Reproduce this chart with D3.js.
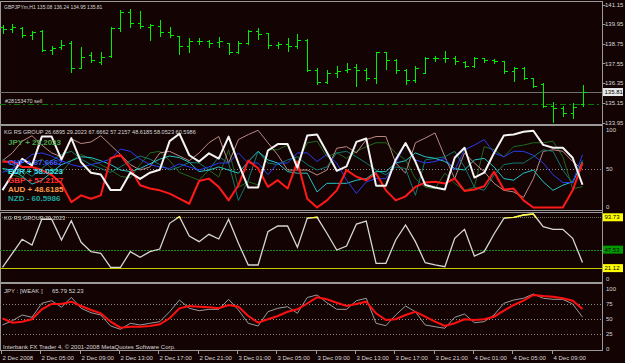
<!DOCTYPE html>
<html>
<head>
<meta charset="utf-8">
<title>GBPJPYm,H1</title>
<style>
  body { margin: 0; background: #130303; }
  svg { display: block; font-family: "Liberation Sans", Arial, sans-serif; }
  text { fill: #d8d8d8; font-size: 6px; }
</style>
<script src="https://cdnjs.cloudflare.com/ajax/libs/d3/7.8.5/d3.min.js"></script>
</head>
<body>
<svg id="chart" width="625" height="363"></svg>
<script>
// ---- data ----
const symbol = "GBPJPYm,H1";
const open = [139.78,139.66,139.72,139.29,139.54,138.38,138.56,138.81,137.28,138.08,
  137.65,138.01,139.72,140.69,140.02,139.78,139.84,139.48,139.23,138.62,
  138.93,138.93,138.87,138.81,138.26,138.81,139.54,139.41,138.68,138.74,
  138.62,138.99,137.16,136.43,136.98,137.16,137.34,137.16,136.67,138.26,
  137.77,137.16,136.55,136.98,137.89,137.89,137.89,137.65,137.40,137.89,
  137.77,137.71,137.10,137.28,136.67,136.31,134.97,134.85,134.54,135.08];
const high = [139.90,139.96,139.78,139.54,139.60,138.62,138.99,138.93,138.56,138.26,
  138.26,139.78,140.82,140.88,140.75,139.96,140.21,139.78,139.23,139.11,
  139.11,138.99,139.17,138.81,138.93,139.60,139.72,139.41,138.87,139.11,
  139.35,139.05,137.28,137.16,137.40,137.59,137.53,137.28,138.26,138.26,
  137.83,137.22,137.40,137.95,138.01,138.32,138.01,137.71,137.95,137.89,
  137.83,137.71,137.34,137.34,136.67,136.37,135.21,134.97,135.15,136.24];
const low = [139.41,139.48,139.17,139.05,138.32,138.14,138.44,137.04,137.28,137.65,
  137.53,137.95,139.54,139.78,139.72,138.99,139.23,139.17,138.14,138.26,
  138.74,138.56,138.56,138.14,138.20,138.74,139.05,138.50,138.50,138.32,
  138.50,137.10,136.31,136.37,136.73,137.04,136.19,136.55,136.37,137.22,
  136.98,136.31,136.43,136.98,137.71,137.65,137.53,137.34,137.34,137.65,
  137.59,136.98,136.49,136.61,136.13,134.91,134.00,134.36,134.24,134.95];
const close = [139.66,139.78,139.29,139.48,138.38,138.50,138.68,137.28,137.95,137.77,
  137.95,139.72,140.69,140.02,139.84,139.90,139.48,139.29,138.62,138.93,
  138.93,138.81,138.93,138.26,138.81,139.54,139.35,138.68,138.74,138.62,
  138.99,137.16,136.43,136.98,137.10,137.22,137.16,136.67,138.26,137.77,
  137.16,136.55,137.28,137.89,137.89,137.89,137.71,137.40,137.89,137.77,
  137.71,137.10,137.28,136.67,136.19,134.97,134.85,134.54,134.91,135.81];
const priceTicks = [141.15, 139.95, 138.75, 137.55, 136.35, 135.15, 133.95];
const bidPrice = 135.81;
const orderPrice = 135.10;
const orderLabel = "#28153470 sell";

// KG RS GROUP strength lines (0..100)
const rsUSD = [50,42,38,55,62,50,45,60,68,62,55,48,40,38,55,70,72,60,45,40,
  35,48,39,74,26,33,29,74,74,80,57,83,85,65,70,63,72,78,83,83,
  70,61,37,26,24,44,31,22,26,78,74,65,78,80,83,83,85,65,24,26.69];
const rsJPY = [22.3,42.3,62.3,54.1,90.9,90.9,61.3,88.9,58.0,44.6,42.3,22.3,22.3,44.6,36.6,44.6,48.4,85.1,94.6,67.0,
  58.9,69.4,62.7,90.9,56.6,25.6,25.6,73.1,81.3,81.3,50.9,92.3,93.7,70.9,47.0,52.7,84.1,88.4,28.0,28.0,
  61.3,82.7,58.9,28.9,25.6,23.1,63.7,76.6,38.4,44.6,69.9,92.3,93.7,97.0,98.4,80.3,76.6,76.6,63.7,29.2];
const rsCHF = [45,50,58,68,70,66,60,55,52,55,58,62,75,72,62,55,52,50,56,52,
  48,52,57,57,70,57,57,42,57,57,70,70,59,68,57,35,18,33,37,37,
  57,82,61,57,59,63,48,74,80,87,70,65,72,72,67,57,42,32,32,67.67];
const rsGBP = [58.8,58.8,52,52,48,41.6,30.7,6.9,15.6,11.3,15.6,63.2,67.5,50.3,28.6,24.3,22,17.8,11.3,4.8,
  34,37,26.4,9.1,28.6,60.1,50.3,26.4,35,24.3,58.8,11.3,0,9.1,22,48,39.4,35,43.7,22,
  9.1,14.3,26.4,32,32.9,30.7,37.3,21.2,23,27.3,45.9,23,24.3,9.1,0,0,0,0,22,57.22];
const rsAUD = [60,70,85,92,80,70,65,88,82,84,92,80,68,55,48,52,70,72,66,60,
  70,83,91,57,87,93.5,99,83,67.5,48,48,48,41.6,48,76,78,70,87,91,91,
  57,44,83,89,95.6,65,37,70,57,46,31,22,20,13,37,72,74,72,59,48.62];
const rsEUR = [50,48,40,30,35,45,55,60,65,64,60,55,48,46,50,56,62,66,64,58,
  46,48,52,48,44,59,72,61,57,46,44,44,20,31,31,31,35,37,46,46,
  57,60,70,65,63,59,50,48,61,63,52,37,35,44,48,33,22,28.6,33,58.05];
const rsNZD = [62,55,48,40,50,60,68,72,62,55,50,45,52,60,66,62,55,48,52,58,
  57,48,65,57,9,35,72,57,55,61,65,55,48,52,70,72,65,57,48,42,
  52,50,15.6,61,63,65,72,52,26,22,41.6,55,57,57,65,74,72,48,31,60.6];
const rsHeader = "KG RS GROUP   26.6895 29.2023 67.6662 57.2157 48.6185 58.0523 60.5986";
const legendNames = ["JPY", "CHF", "EUR", "GBP", "AUD", "NZD"];
const legendSigns = ["+", "+", "+", "+", "+", "-"];
const legendValues = ["29.2023", "67.6662", "58.0523", "57.2157", "48.6185", "60.5986"];
const rsTicks = [100, 50, 0];

// JPY panel levels
const levels = [93.73, 47.53, 21.12];

// JPY strength panel
const strRaw = [39.2,46.3,55.8,52.0,75.3,79.7,68.7,85.3,67.0,59.7,55.8,37.5,32.0,42.0,39.2,42.0,44.7,61.3,80.8,67.0,
  63.0,65.3,65.3,82.0,64.2,42.0,37.5,61.3,67.0,69.7,58.7,85.0,89.2,76.3,65.3,65.3,79.7,83.7,42.0,38.0,
  55.8,70.8,61.3,39.2,36.3,33.7,52.0,57.5,43.0,44.7,55.8,75.3,80.8,83.7,90.8,83.7,82.0,82.0,74.2,52.23];
const strSmooth = [50.3,43,44.7,48.7,65.3,74.2,74.2,78,70.8,64.2,58.7,44.7,34.7,36.3,36.3,37.5,40.3,50.3,67,70.8,
  69.7,68.7,67,72.5,69.7,54.2,43,48.7,54.2,61.3,65.3,75,85.3,82,76.3,70.8,74.2,78,58.7,47.5,
  48.7,55.8,61.3,53,44.7,37.5,42,48.7,47.5,48.7,53,63,72.5,79.7,89.2,87.5,86.3,83.7,79.7,65.79];
const strTicks = [100, 75, 50, 25, 0];

const timeTickBars = [0,4,8,12,16,20,24,28,32,36,40,44,48,52,56];
const timeTickLabels = ["2 Dec 2008","2 Dec 05:00","2 Dec 09:00","2 Dec 13:00","2 Dec 17:00",
  "2 Dec 21:00","3 Dec 01:00","3 Dec 05:00","3 Dec 09:00","3 Dec 13:00","3 Dec 17:00",
  "3 Dec 21:00","4 Dec 01:00","4 Dec 05:00","4 Dec 09:00"];

// ---- layout ----
const svg = d3.select("#chart");
const right = 602.5;
const panels = [[1.5, 124.5], [125.5, 210.5], [212.5, 282.5], [283.5, 350.5]];

const x = d3.scaleLinear().domain([0, 59]).range([2.5, 582.5]);
const yP = d3.scaleLinear().domain([133.95, 141.15]).range([122.5, 4.5]);
const yR = d3.scaleLinear().domain([0, 100]).range([207.5, 129.5]);
const yJ = d3.scaleLinear().domain([0, 100]).range([282.9, 212.9]);
const yS = d3.scaleLinear().domain([0, 100]).range([348.5, 288.5]);
const px = v => Math.round(v) + 0.5;

// panel frames
panels.forEach(p => {
  svg.append("rect").attr("x", 0.5).attr("y", p[0]).attr("width", right - 0.5).attr("height", p[1] - p[0])
    .attr("fill", "none").attr("stroke", "#9a9a9a").attr("stroke-width", 1);
});
svg.append("line").attr("x1", right).attr("x2", right).attr("y1", 1).attr("y2", 351)
  .attr("stroke", "#9a9a9a");

// ---- price panel ----
svg.append("line").attr("x1", 0).attr("x2", right).attr("y1", px(yP(bidPrice))).attr("y2", px(yP(bidPrice)))
  .attr("stroke", "#707070");
svg.append("line").attr("x1", 0).attr("x2", right).attr("y1", px(yP(orderPrice))).attr("y2", px(yP(orderPrice)))
  .attr("stroke", "#0a7a0a").attr("stroke-dasharray", "6,3,2,3");
svg.append("text").attr("x", 5).attr("y", px(yP(orderPrice)) - 2).style("font-size", "5.5px").text(orderLabel);

const bars = svg.append("g").attr("stroke", "#00ee00").attr("shape-rendering", "crispEdges");
d3.range(open.length).forEach(i => {
  const cx = px(x(i));
  bars.append("line").attr("x1", cx).attr("x2", cx).attr("y1", Math.round(yP(high[i]))).attr("y2", Math.round(yP(low[i])) + 1);
  bars.append("line").attr("x1", cx - 3).attr("x2", cx).attr("y1", px(yP(open[i]))).attr("y2", px(yP(open[i])));
  bars.append("line").attr("x1", cx).attr("x2", cx + 3.5).attr("y1", px(yP(close[i]))).attr("y2", px(yP(close[i])));
});

svg.append("text").attr("x", 4).attr("y", 9).style("font-size", "5px")
  .text(symbol + "  " + open[59].toFixed(2) + " " + high[59].toFixed(2) + " " + low[59].toFixed(2) + " " + close[59].toFixed(2));

priceTicks.forEach(t => {
  svg.append("line").attr("x1", right).attr("x2", right + 3).attr("y1", px(yP(t))).attr("y2", px(yP(t))).attr("stroke", "#9a9a9a");
  svg.append("text").attr("x", 605).attr("y", yP(t) + 2.2).text(t.toFixed(2));
});
svg.append("rect").attr("x", 603).attr("y", yP(bidPrice) - 4).attr("width", 20).attr("height", 8).attr("fill", "#e8e8e8");
svg.append("text").attr("x", 604.5).attr("y", yP(bidPrice) + 2.2).style("fill", "#000").text(bidPrice.toFixed(2));

// ---- RS group panel ----
svg.append("line").attr("x1", 0).attr("x2", right).attr("y1", px(yR(50))).attr("y2", px(yR(50)))
  .attr("stroke", "#8a8a8a").attr("stroke-dasharray", "1,2");
const rsLine = d3.line().x((d, i) => x(i)).y(d => yR(d));
const rsSeries = [
  [rsUSD, "#1f6a1f", 1], [rsAUD, "#b88a84", 1], [rsNZD, "#0f7a70", 1], [rsEUR, "#22c4c4", 1],
  [rsCHF, "#2a3cf0", 1], [rsGBP, "#ff1a1a", 2], [rsJPY, "#f4f4f4", 2]
];
rsSeries.forEach(s => {
  svg.append("path").datum(s[0]).attr("d", rsLine).attr("fill", "none")
    .attr("stroke", s[1]).attr("stroke-width", s[2]).attr("stroke-linejoin", "round");
});
svg.append("text").attr("x", 4).attr("y", 134).style("font-size", "5.6px").text(rsHeader);
const legendColors = ["#4aa64a", "#3a5cff", "#3ce0ee", "#ff3030", "#ff9a4a", "#1aa8a0"];
const legendY = [145, 165, 174, 183, 192, 201];
legendNames.forEach((n, k) => {
  svg.append("text").attr("x", 8).attr("y", legendY[k]).style("fill", legendColors[k])
    .style("font-size", "8px").style("font-weight", "bold")
    .text(n + " " + legendSigns[k] + " " + legendValues[k]);
});
rsTicks.forEach(t => {
  svg.append("text").attr("x", 606).attr("y", Math.min(yR(t), 207) + 2.2).text(t);
});

// ---- JPY RS panel ----
svg.append("line").attr("x1", 0).attr("x2", right).attr("y1", px(yJ(levels[0]))).attr("y2", px(yJ(levels[0])))
  .attr("stroke", "#6a7a5a").attr("stroke-dasharray", "1,1");
svg.append("line").attr("x1", 0).attr("x2", right).attr("y1", px(yJ(levels[1]))).attr("y2", px(yJ(levels[1])))
  .attr("stroke", "#1a8a1a").attr("stroke-dasharray", "2,1");
svg.append("line").attr("x1", 0).attr("x2", right).attr("y1", px(yJ(levels[2]))).attr("y2", px(yJ(levels[2])))
  .attr("stroke", "#c8c800");
const jLine = d3.line().x((d, i) => x(i)).y(d => yJ(d));
svg.append("path").datum(rsJPY).attr("d", jLine).attr("fill", "none").attr("stroke", "#d6d6d6").attr("stroke-width", 1.3);
svg.append("clipPath").attr("id", "topclip").append("rect").attr("x", 0).attr("y", 212).attr("width", 603).attr("height", yJ(levels[0]) - 211);
svg.append("path").datum(rsJPY).attr("d", jLine).attr("fill", "none").attr("stroke", "#ffff40").attr("stroke-width", 1.3)
  .attr("clip-path", "url(#topclip)");
svg.append("text").attr("x", 4).attr("y", 220).style("font-size", "5.6px").text("KG RS GROUP   " + legendValues[0]);
const levelFill = ["#ffff00", "#009a00", "#ffff00"];
levels.forEach((l, k) => {
  svg.append("rect").attr("x", 603).attr("y", yJ(l) - 4).attr("width", 20).attr("height", 8).attr("fill", levelFill[k]);
  svg.append("text").attr("x", 604.5).attr("y", yJ(l) + 2.2).style("fill", "#000").text(l.toFixed(2));
});
svg.append("text").attr("x", 606).attr("y", 281).text("0");

// ---- JPY strength panel ----
[75, 50, 25].forEach(t => {
  svg.append("line").attr("x1", 0).attr("x2", right).attr("y1", px(yS(t))).attr("y2", px(yS(t)))
    .attr("stroke", "#8a8a8a").attr("stroke-dasharray", "1,2");
});
const sLine = d3.line().x((d, i) => x(i)).y(d => yS(d));
svg.append("path").datum(strRaw).attr("d", sLine).attr("fill", "none").attr("stroke", "#9a9a9a").attr("stroke-width", 1);
svg.append("path").datum(strSmooth).attr("d", sLine).attr("fill", "none").attr("stroke", "#ff1010").attr("stroke-width", 2);
svg.append("text").attr("x", 4).attr("y", 293).text("JPY : [WEAK ]");
svg.append("text").attr("x", 52).attr("y", 293).text(strSmooth[59].toFixed(2) + " " + strRaw[59].toFixed(2));
strTicks.forEach(t => {
  svg.append("text").attr("x", 606).attr("y", yS(t) + 2.2).text(t);
});
svg.append("text").attr("x", 3).attr("y", 349).text("Interbank FX Trader 4, \u00a9 2001-2008 MetaQuotes Software Corp.");

// ---- time axis ----
timeTickBars.forEach((b, k) => {
  const tx = px(x(b) - 1.5);
  svg.append("line").attr("x1", tx).attr("x2", tx).attr("y1", 351).attr("y2", 354).attr("stroke", "#9a9a9a");
  svg.append("text").attr("x", tx + 1).attr("y", 360).text(timeTickLabels[k]);
});
</script>
</body>
</html>
